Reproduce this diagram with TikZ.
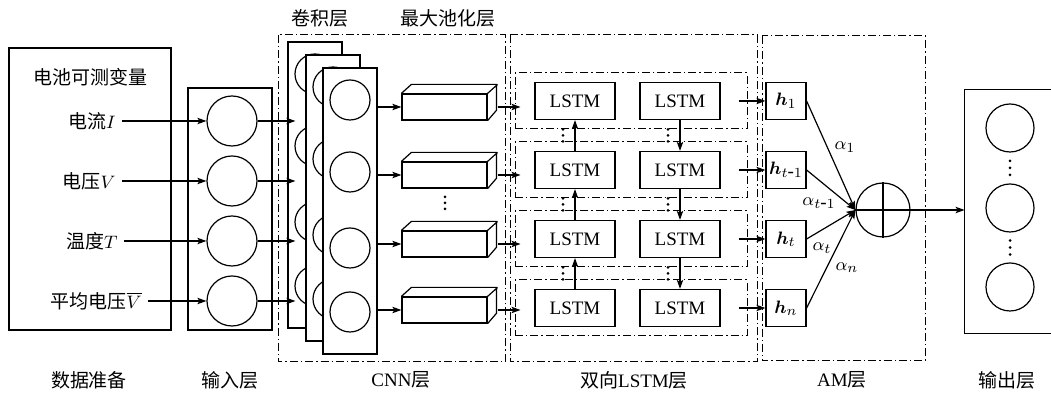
\documentclass[tikz,border=0pt]{standalone}
\usepackage{fontspec}
\usepackage{bm}
\setmainfont{Liberation Serif}
\newfontfamily\cjk{Noto Sans CJK SC}
\usetikzlibrary{calc,arrows.meta,positioning}
\tikzset{
myFrame/.style={
	draw, line width=0.5pt,
	dash pattern=on 4pt off 1.5pt on 0.7pt off 1.5pt
}
, myBox/.style={
	rectangle, draw, line width=0.6pt, inner sep=0pt
}
, myCircle/.style={
	circle, draw, line width=0.6pt,
	minimum size=25pt, inner sep=0pt
}
, myConvCircle/.style={
	circle, draw, line width=0.6pt,
	minimum size=20pt, inner sep=0pt
}
, myConv/.style={
	rectangle, draw, fill=white, line width=0.6pt,
	minimum width=27pt, minimum height=143pt, inner sep=0pt
}
, myPool/.style={
	rectangle, draw, fill=white, line width=0.6pt,
	minimum width=42.5pt, minimum height=13pt, inner sep=0pt
}
, myRow/.style={
	rectangle, myFrame,
	minimum width=116pt, minimum height=28pt, inner sep=0pt
}
, myLSTM/.style={
	rectangle, draw, line width=0.6pt,
	minimum width=40pt, minimum height=18.5pt, inner sep=0pt
}
, myH/.style={
	rectangle, draw, line width=0.6pt,
	minimum width=20pt, minimum height=18.5pt, inner sep=0pt
}
, myVar/.style={anchor=east, inner sep=3pt}
% link
, myArrow/.style={-{Stealth[length=4.5pt,width=3.2pt,inset=1pt]}, line width=0.6pt}
, myLine/.style={line width=0.6pt}
}
% three small dots, (position){spacing}
\newcommand{\myDots}[2]{%
	\fill ($#1+(0,-#2)$) circle (0.75pt) #1 circle (0.75pt) ($#1+(0,#2)$) circle (0.75pt);}

\begin{document}
\begin{tikzpicture}[x=0.5pt, y=-0.5pt, font=\fontsize{9.5}{11}\selectfont]
	\useasboundingbox (0,0) rectangle (1051,394);

	% data
	\node[myBox, minimum width=81pt, minimum height=141pt] (Data) at (90,189) {};
	\node (DataTitle) at (90,77) {\cjk 电池可测变量};
	\node[myVar] (VarI) at (122,121) {{\cjk 电流}$I$};
	\node[myVar] (VarV) at (122,181) {{\cjk 电压}$V$};
	\node[myVar] (VarT) at (124,241) {{\cjk 温度}$T$};
	\node[myVar] (VarVm) at (148,301) {{\cjk 平均电压}$\overline{V}$};

	% input layer
	\node[myBox, minimum width=42pt, minimum height=121pt] (Input) at (230,209) {};
	\node[myCircle] (In1) at (232,121) {};
	\node[myCircle] (In2) at (232,181) {};
	\node[myCircle] (In3) at (232,241) {};
	\node[myCircle] (In4) at (232,301) {};
	\draw [myArrow] (VarI.east) to (In1.west);
	\draw [myArrow] (VarV.east) to (In2.west);
	\draw [myArrow] (VarT.east) to (In3.west);
	\draw [myArrow] (VarVm.east) to (In4.west);

	% CNN layer
	\draw[myFrame] (278,35) rectangle (505,362);
	\node[myConv] (Conv1) at (315,185) {};
	\node[myConvCircle] at (315,74) {};
	\node[myConvCircle] at (315,146) {};
	\node[myConvCircle] at (315,222) {};
	\node[myConvCircle] at (315,286) {};
	\node[myConv] (Conv2) at (333,198) {};
	\node[myConvCircle] at (333,87) {};
	\node[myConvCircle] at (333,159) {};
	\node[myConvCircle] at (333,235) {};
	\node[myConvCircle] at (333,299) {};
	\node[myConv] (Conv3) at (350,211) {};
	\node[myConvCircle] (C1) at (350,100) {};
	\node[myConvCircle] (C2) at (350,172) {};
	\node[myConvCircle] (C3) at (350,248) {};
	\node[myConvCircle] (C4) at (350,312) {};
	\draw [myArrow] (In1.east) to ($(Conv1.west |- In1.east)+(4pt,0)$);
	\draw [myArrow] (In2.east) to ($(Conv1.west |- In2.east)+(4pt,0)$);
	\draw [myArrow] (In3.east) to ($(Conv1.west |- In3.east)+(4pt,0)$);
	\draw [myArrow] (In4.east) to ($(Conv1.west |- In4.east)+(4pt,0)$);

	% max pooling
	\node[myPool] (P1) at (444.5,107) {};
	\node[myPool] (P2) at (444.5,175) {};
	\node[myPool] (P3) at (444.5,244) {};
	\node[myPool] (P4) at (444.5,310) {};
	\foreach \p in {P1,P2,P3,P4}{
		\draw[myLine] (\p.north west) -- ++(10,-9) -- ++(85,0) -- ++(0,26) -- (\p.south east)
			(\p.north east) -- ++(10,-9);
		\draw [myArrow] (Conv3.east |- \p.west) to (\p.west);
	}
	\coordinate (PoolDots) at (445,203);
	\myDots{(PoolDots)}{6}

	% BiLSTM layer
	\draw[myFrame] (510,35) rectangle (757,362);
	\node[myRow] (Row1) at (631,101) {};
	\node[myRow] (Row2) at (631,170) {};
	\node[myRow] (Row3) at (631,239) {};
	\node[myRow] (Row4) at (631,308) {};
	\node[myLSTM] (L1) at (575,101) {LSTM};
	\node[myLSTM] (R1) at (680,101) {LSTM};
	\node[myLSTM] (L2) at (575,170) {LSTM};
	\node[myLSTM] (R2) at (680,170) {LSTM};
	\node[myLSTM] (L3) at (575,239) {LSTM};
	\node[myLSTM] (R3) at (680,239) {LSTM};
	\node[myLSTM] (L4) at (575,308) {LSTM};
	\node[myLSTM] (R4) at (680,308) {LSTM};
	\draw [myArrow] ($(P1.east)+(5pt,0)$) to ($(Row1.west |- P1.east)+(3pt,0)$);
	\draw [myArrow] ($(P2.east)+(5pt,0)$) to ($(Row2.west |- P2.east)+(3pt,0)$);
	\draw [myArrow] ($(P3.east)+(5pt,0)$) to ($(Row3.west |- P3.east)+(3pt,0)$);
	\draw [myArrow] ($(P4.east)+(5pt,0)$) to ($(Row4.west |- P4.east)+(3pt,0)$);
	\draw [myArrow] (L2.north) to (L1.south);
	\draw [myArrow] (L3.north) to (L2.south);
	\draw [myArrow] (L4.north) to (L3.south);
	\draw [myArrow] (R1.south) to (R2.north);
	\draw [myArrow] (R2.south) to (R3.north);
	\draw [myArrow] (R3.south) to (R4.north);
	\coordinate (LD1) at ($(L1.south)!0.5!(L2.north)+(-6pt,0)$);
	\coordinate (LD2) at ($(L2.south)!0.5!(L3.north)+(-6pt,0)$);
	\coordinate (LD3) at ($(L3.south)!0.5!(L4.north)+(-6pt,0)$);
	\coordinate (RD1) at ($(R1.south)!0.5!(R2.north)+(-6pt,0)$);
	\coordinate (RD2) at ($(R2.south)!0.5!(R3.north)+(-6pt,0)$);
	\coordinate (RD3) at ($(R3.south)!0.5!(R4.north)+(-6pt,0)$);
	\myDots{(LD1)}{6} \myDots{(LD2)}{6} \myDots{(LD3)}{6}
	\myDots{(RD1)}{6} \myDots{(RD2)}{6} \myDots{(RD3)}{6}

	% AM layer
	\draw[myFrame] (762,36) rectangle (925,361);
	\node[myH] (H1) at (786,101) {$\bm{h}_1$};
	\node[myH] (H2) at (786,170) {$\bm{h}_{t\mbox{-}1}$};
	\node[myH] (H3) at (786,239) {$\bm{h}_t$};
	\node[myH] (H4) at (786,308) {$\bm{h}_n$};
	\draw [myArrow] ($(Row1.east)+(-4.5pt,0)$) to (H1.west);
	\draw [myArrow] ($(Row2.east)+(-4.5pt,0)$) to (H2.west);
	\draw [myArrow] ($(Row3.east)+(-4.5pt,0)$) to (H3.west);
	\draw [myArrow] ($(Row4.east)+(-4.5pt,0)$) to (H4.west);
	\node[circle, draw, line width=0.6pt, minimum size=27pt, inner sep=0pt] (Sum) at (883,210) {};
	\draw[myLine] (Sum.north) -- (Sum.south) (Sum.west) -- (Sum.east);
	\draw [myArrow] (H1.east) to (Sum.west);
	\draw [myArrow] (H2.east) to (Sum.west);
	\draw [myArrow] (H3.east) to (Sum.west);
	\draw [myArrow] (H4.east) to (Sum.west);
	\node at (845,147) {$\alpha_1$};
	\node at (819,203) {$\alpha_{t\mbox{-}1}$};
	\node at (822,248) {$\alpha_t$};
	\node at (847,268) {$\alpha_n$};

	% output layer
	\node[minimum width=43pt, minimum height=121.5pt, inner sep=0pt] (Out) at (1008,211.5) {};
	\draw[myLine] (Out.north east) -- (Out.north west) -- (Out.south west) -- (Out.south east);
	\node[myCircle, minimum size=24pt] (O1) at (1010,128) {};
	\node[myCircle, minimum size=24pt] (O2) at (1010,208) {};
	\node[myCircle, minimum size=24pt] (O3) at (1010,287) {};
	\coordinate (OD1) at ($(O1.south)!0.5!(O2.north)$);
	\coordinate (OD2) at ($(O2.south)!0.5!(O3.north)$);
	\myDots{(OD1)}{7} \myDots{(OD2)}{7}
	\draw [myArrow] (Sum.east) to (Out.west |- Sum.east);

	% titles
	\node at (320,18) {\cjk 卷积层};
	\node at (448,18) {\cjk 最大池化层};
	\node at (89,380) {\cjk 数据准备};
	\node at (230,380) {\cjk 输入层};
	\node at (401,380) {CNN{\cjk 层}};
	\node at (634,380) {{\cjk 双向}LSTM{\cjk 层}};
	\node at (842,380) {AM{\cjk 层}};
	\node at (1007,380) {\cjk 输出层};
\end{tikzpicture}
\end{document}
